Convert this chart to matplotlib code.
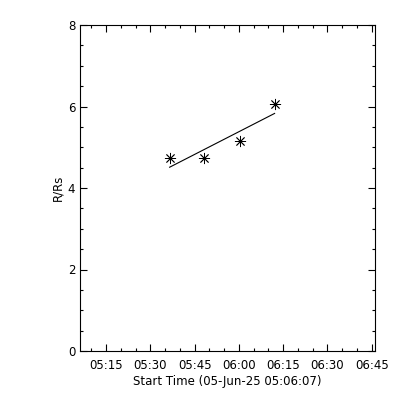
import datetime as dt
import matplotlib
matplotlib.use("Agg")
import matplotlib.pyplot as plt
import matplotlib.dates as mdates

t0 = dt.datetime(2025, 6, 5, 5, 6, 7)
t_end = t0 + dt.timedelta(minutes=100)

# observed heights (R/Rs) at each time
obs_times = [dt.datetime(2025, 6, 5, 5, 36, 30), dt.datetime(2025, 6, 5, 5, 48, 10),
             dt.datetime(2025, 6, 5, 6, 0, 20), dt.datetime(2025, 6, 5, 6, 12, 5)]
obs_height = [4.73, 4.73, 5.15, 6.05]

# linear fit endpoints
fit_times = [obs_times[0], obs_times[-1]]
fit_height = [4.51, 5.83]

plt.rcParams["font.family"] = "DejaVu Sans"
fig = plt.figure(figsize=(4, 4), dpi=100)
ax = fig.add_axes([0.2, 0.1225, 0.7375, 0.815])

ax.plot(fit_times, fit_height, "-", color="black", linewidth=0.8)
ax.plot(obs_times, obs_height, linestyle="none", marker=(8, 2, 0),
        markersize=8, markeredgewidth=0.6, color="black")

ax.set_xlim(t0, t_end)
ax.set_ylim(0, 8)
ax.xaxis.set_major_locator(mdates.MinuteLocator(byminute=[0, 15, 30, 45]))
ax.xaxis.set_minor_locator(mdates.MinuteLocator(byminute=range(0, 60, 5)))
ax.xaxis.set_major_formatter(mdates.DateFormatter("%H:%M"))
ax.set_yticks([0, 2, 4, 6, 8])
ax.set_yticks([i * 0.5 for i in range(17)], minor=True)

ax.tick_params(which="both", direction="in", top=True, right=True,
               labelsize=8.5, width=0.8, color="black")
ax.tick_params(which="major", length=5)
ax.tick_params(axis="x", which="major", pad=6)
ax.tick_params(which="minor", length=2.5)
for s in ax.spines.values():
    s.set_linewidth(0.8)

ax.set_xlabel("Start Time (05-Jun-25 05:06:07)", fontsize=8.5, labelpad=2)
ax.set_ylabel("R/Rs", fontsize=8.5, labelpad=2)

fig.savefig("out.png", dpi=100, facecolor="white")
